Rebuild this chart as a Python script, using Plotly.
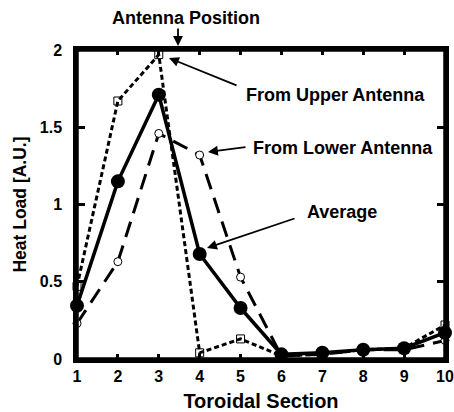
import plotly.graph_objects as go

sections = [1, 2, 3, 4, 5, 6, 7, 8, 9, 10]
upper = [0.47, 1.67, 1.97, 0.04, 0.13, 0.02, 0.03, 0.06, 0.07, 0.22]
average = [0.345, 1.15, 1.71, 0.68, 0.33, 0.03, 0.04, 0.06, 0.07, 0.17]
lower = [0.23, 0.63, 1.46, 1.32, 0.53, 0.02, 0.03, 0.06, 0.06, 0.12]
yticks = [0, 0.5, 1, 1.5, 2]
ytick_labels = ["<b>0</b>", "<b>0.5</b>", "<b>1</b>", "<b>1.5</b>", "<b>2</b>"]
xtick_labels = ["<b>%d</b>" % s for s in sections]

W, H = 454, 412
L, R, T, B = 77, 9, 50, 53
FONT = "Liberation Sans"

fig = go.Figure()
fig.add_trace(go.Scatter(
    x=sections, y=upper, mode="lines+markers", name="From Upper Antenna",
    line=dict(color="black", width=3, dash="5px,3px"),
    marker=dict(symbol="square-open", size=8, color="black", line=dict(width=1)),
    cliponaxis=False))
fig.add_trace(go.Scatter(
    x=sections, y=lower, mode="lines+markers", name="From Lower Antenna",
    line=dict(color="black", width=3, dash="16px,9px"),
    marker=dict(symbol="circle", size=8, color="white", line=dict(width=1, color="black")),
    cliponaxis=False))
fig.add_trace(go.Scatter(
    x=sections, y=average, mode="lines+markers", name="Average",
    line=dict(color="black", width=3.5),
    marker=dict(symbol="circle", size=14, color="black"),
    cliponaxis=False))

axis_common = dict(
    showline=True, linewidth=3.5, linecolor="black", mirror="ticks",
    ticks="inside", tickwidth=3, tickcolor="black",
    showgrid=False, zeroline=False, automargin=False,
    tickfont=dict(family=FONT, size=16, color="black"),
)
fig.update_xaxes(range=[1, 10], tickvals=sections, ticktext=xtick_labels, ticklen=5,
                 title=dict(text="<b>Toroidal Section</b>", standoff=12,
                            font=dict(family=FONT, size=20, color="black")),
                 **axis_common)
fig.update_yaxes(range=[0, 2], tickvals=yticks, ticktext=ytick_labels, ticklen=8,
                 ticklabelstandoff=8,
                 title=dict(text="<b>Heat Load [A.U.]</b>", standoff=10,
                            font=dict(family=FONT, size=17.5, color="black")),
                 **axis_common)

pw = W - L - R
ph = H - T - B

def px_to_px(px):
    return (px - L) / pw

def py_to_py(py):
    return (H - B - py) / ph

afont = dict(family=FONT, size=18, color="black")
anns = []
for txt, cx, cy in [("Antenna Position", 186, 18), ("From Upper Antenna", 335, 95),
                    ("From Lower Antenna", 343, 148), ("Average", 342, 212)]:
    anns.append(dict(text="<b>%s</b>" % txt, x=px_to_px(cx), y=py_to_py(cy),
                     xref="paper", yref="paper",
                     showarrow=False, font=afont, xanchor="center", yanchor="middle"))
for hx, hy, tx, ty in [(178, 46, 178, 27), (169, 58, 238, 86),
                       (208, 152, 247, 147), (207, 248, 296, 218)]:
    anns.append(dict(text="", x=px_to_px(hx), y=py_to_py(hy), xref="paper", yref="paper",
                     ax=tx - hx, ay=ty - hy, showarrow=True, arrowhead=2,
                     arrowsize=1.1, arrowwidth=1.8, arrowcolor="black", standoff=0))

fig.update_layout(
    width=W, height=H, margin=dict(l=L, r=R, t=T, b=B),
    paper_bgcolor="white", plot_bgcolor="white", showlegend=False,
    annotations=anns,
    shapes=[dict(type="rect", xref="paper", yref="paper", x0=0, y0=0, x1=1, y1=1,
                 line=dict(color="black", width=3.5), layer="above")],
)
fig.write_html("out.html")
